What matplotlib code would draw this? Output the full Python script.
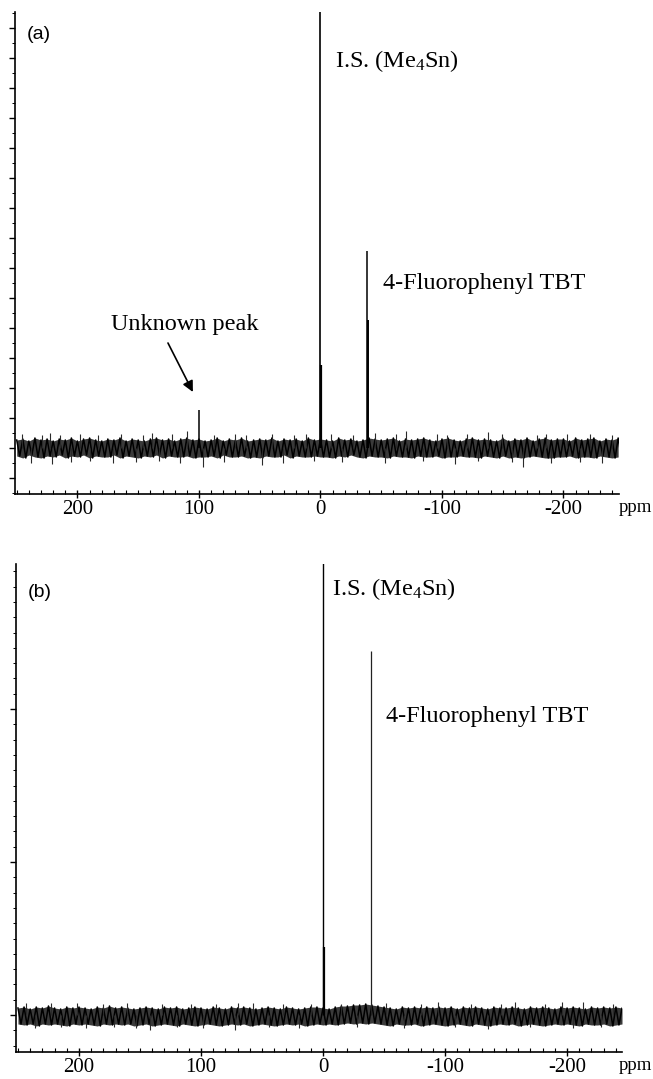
import numpy as np
import matplotlib
matplotlib.use("Agg")
import matplotlib.pyplot as plt
from matplotlib.ticker import MultipleLocator, FixedLocator

plt.rcParams["font.family"] = ["Liberation Serif", "DejaVu Serif"]
plt.rcParams["mathtext.fontset"] = "custom"
plt.rcParams["mathtext.rm"] = "Liberation Serif"
plt.rcParams["mathtext.it"] = "Liberation Serif:italic"

# ---------------- data ----------------
# chemical shift grid for the baseline-noise envelope (ppm)
noise_ppm = np.arange(250, -246, -5)

# panel (a) baseline noise envelope (arbitrary intensity units)
noise_hi_a = [8, 9, 7, 10, 8, 9, 7, 9, 8, 10,
              7, 9, 10, 8, 7, 9, 8, 10, 7, 9,
              8, 7, 9, 10, 8, 9, 7, 9, 10, 8,
              9, 7, 8, 10, 7, 9, 8, 10, 7, 8,
              9, 8, 10, 7, 9, 8, 9, 7, 10, 8,
              9, 8, 7, 10, 8, 9, 7, 8, 10, 9,
              8, 9, 10, 7, 9, 8, 9, 10, 8, 7,
              9, 10, 8, 7, 9, 10, 8, 9, 8, 7,
              10, 7, 9, 8, 10, 7, 9, 10, 8, 9,
              9, 7, 10, 8, 9, 10, 7, 9, 8, 10]
noise_lo_a = [-8, -10, -7, -9, -10, -8, -9, -7, -10, -8,
              -9, -7, -10, -8, -9, -9, -7, -10, -8, -9,
              -10, -8, -9, -7, -10, -8, -9, -9, -8, -10,
              -9, -9, -8, -10, -7, -9, -9, -8, -10, -9,
              -10, -8, -9, -9, -7, -10, -8, -9, -9, -8,
              -9, -9, -10, -8, -9, -7, -9, -10, -8, -9,
              -9, -10, -8, -9, -9, -10, -8, -9, -9, -8,
              -10, -9, -9, -8, -9, -9, -10, -8, -9, -10,
              -8, -10, -9, -10, -9, -8, -9, -10, -10, -9,
              -9, -8, -10, -9, -9, -10, -8, -9, -10, -9]
# individual noise spikes in panel (a)
spike_ppm_a = [246, 238, 229, 223, 221, 214, 205, 198, 190, 183,
               171, 164, 152, 146, 139, 133, 122, 116, 110, 97,
               88, 79, 70, 61, 48, 40, 31, 22, 12, 5,
               -9, -18, -27, -45, -53, -62, -70, -84, -96, -104,
               -111, -121, -130, -138, -149, -158, -167, -178, -186, -190,
               -203, -214, -222, -232, -240]
spike_val_a = [14, -15, 13, 15, -16, 13, -14, 14, -13, 13,
               -15, 14, -14, 13, 15, -13, 14, -15, 17, -19,
               13, -14, 14, 13, -17, 14, -15, 13, 14, -13,
               14, -14, 13, 15, -15, 14, 17, -13, 14, 13,
               -16, 14, -13, 16, 14, -14, -19, 13, 14, -15,
               14, -14, 14, -15, 13]

# panel (a) peaks: I.S. (Me4Sn) + shoulder, 4-fluorophenyl TBT (two traces), unknown peak
peak_ppm_a = [0.0, -0.6, -38.5, -38.8, 99.8]
peak_height_a = [440, 83, 197, 128, 38]

# panel (b) baseline noise envelope
noise_hi_b = [7, 8, 6, 8, 7, 9, 7, 6, 8, 7,
              8, 7, 6, 8, 7, 9, 7, 8, 7, 6,
              7, 8, 7, 6, 8, 7, 8, 6, 7, 8,
              7, 6, 8, 7, 6, 8, 7, 8, 7, 6,
              7, 8, 7, 6, 8, 7, 6, 7, 8, 8,
              7, 6, 8, 9, 9, 10, 10, 11, 10, 9,
              8, 7, 6, 8, 7, 8, 7, 8, 7, 8,
              7, 8, 6, 8, 7, 8, 7, 6, 8, 7,
              7, 8, 7, 6, 8, 7, 8, 7, 6, 8,
              7, 8, 7, 6, 8, 7, 8, 7, 8, 7]
noise_lo_b = [-9, -10, -9, -11, -9, -10, -9, -10, -11, -9,
              -10, -9, -10, -11, -9, -10, -9, -10, -9, -11,
              -10, -9, -11, -10, -9, -10, -11, -9, -10, -11,
              -10, -9, -10, -11, -10, -9, -10, -9, -11, -10,
              -9, -10, -11, -10, -9, -10, -9, -11, -10, -9,
              -10, -9, -10, -9, -8, -9, -8, -9, -8, -9,
              -10, -11, -9, -10, -10, -9, -11, -10, -9, -10,
              -11, -10, -9, -10, -11, -9, -10, -11, -10, -9,
              -10, -9, -11, -10, -9, -10, -11, -10, -9, -10,
              -9, -10, -11, -9, -10, -10, -9, -11, -10, -9]
spike_ppm_b = [243, 236, 223, 215, 202, 194, 180, 171, 161, 153,
               142, 132, 120, 108, 98, 88, 72, 70, 57, 44,
               33, 20, 10, -15, -28, -52, -66, -80, -94, -108,
               -121, -135, -146, -157, -170, -182, -196, -205, -213, -228,
               -238]
spike_val_b = [12, -13, 12, -12, 12, -13, 11, -12, 12, -13,
               -15, 11, -12, 11, -13, 11, -15, 12, 12, -12,
               11, -13, 11, 11, -12, 12, -13, 11, 13, -12,
               11, -14, 11, 13, -12, 11, 13, -13, 13, -12,
               11]

# panel (b) peaks: I.S. + shoulder, 4-fluorophenyl TBT
peak_ppm_b = [0.0, -0.5, -39.2]
peak_height_b = [455, 68, 364]

x_ticks = [200, 100, 0, -100, -200]
x_ticklabels = ["200", "100", "0", "-100", "-200"]

# ---------------- figure ----------------
W, H = 653, 1079
fig = plt.figure(figsize=(W / 100, H / 100), dpi=100)
axa = fig.add_axes([15 / W, 1 - 494 / H, (619 - 15) / W, (494 - 12) / H])
axb = fig.add_axes([16 / W, 1 - 1052 / H, (622 - 16) / W, (1052 - 564) / H])


def draw_noise(ax, ppm, hi, lo, sp_ppm, sp_val):
    ppm = np.asarray(ppm, float)
    # dark envelope band
    ax.fill_between(ppm, lo, hi, color="#3a3a3a", lw=0)
    # black trace zig-zagging between the envelope values
    xs = np.empty(2 * len(ppm))
    ys = np.empty(2 * len(ppm))
    xs[0::2] = ppm
    xs[1::2] = ppm - 2.5
    ys[0::2] = hi
    ys[1::2] = lo
    ax.plot(xs, ys, color="black", lw=1.1)
    ax.vlines(sp_ppm, 0, sp_val, colors="#2a2a2a", linewidths=0.8)


def style_axes(ax, xlim, ylim, ymajor, yminor, ppm_dx):
    ax.set_xlim(*xlim)
    ax.set_ylim(*ylim)
    for s in ("top", "right"):
        ax.spines[s].set_visible(False)
    ax.spines["left"].set_linewidth(1.2)
    ax.spines["bottom"].set_linewidth(1.2)
    ax.xaxis.set_major_locator(FixedLocator(x_ticks))
    ax.set_xticklabels(x_ticklabels)
    ax.xaxis.set_minor_locator(MultipleLocator(10))
    ax.yaxis.set_major_locator(MultipleLocator(ymajor))
    ax.yaxis.set_minor_locator(MultipleLocator(yminor))
    ax.tick_params(axis="x", which="major", direction="inout", length=6,
                   width=1, pad=1, labelsize=15)
    ax.tick_params(axis="x", which="minor", direction="in", length=3, width=0.8)
    ax.tick_params(axis="y", which="major", direction="out", length=4,
                   width=1, labelleft=False)
    ax.tick_params(axis="y", which="minor", direction="out", length=2.5,
                   width=0.7)
    ax.annotate("ppm", xy=(1, 0), xycoords="axes fraction", xytext=(ppm_dx, -5),
                textcoords="offset pixels", ha="left", va="top", fontsize=13.5)


# panel (a)
draw_noise(axa, noise_ppm, noise_hi_a, noise_lo_a, spike_ppm_a, spike_val_a)
axa.vlines(peak_ppm_a, 0, peak_height_a, colors="black",
           linewidths=[1.2, 1.6, 1.1, 1.4, 1.1])
style_axes(axa, (251.4, -245.7), (-46, 436), 30, 15, 0)
axa.text(0.02, 0.954, "(a)", transform=axa.transAxes, ha="left", va="center",
         fontsize=14, family=["Liberation Sans", "DejaVu Sans"])
axa.text(-12, 381, r"I.S. (Me$_\mathrm{4}$Sn)", ha="left", va="baseline",
         fontsize=17.5)
axa.text(-51.5, 159, "4-Fluorophenyl TBT", ha="left", va="baseline",
         fontsize=17.5)
axa.text(111.5, 118, "Unknown peak", ha="center", va="baseline", fontsize=17.5)
axa.annotate("", xy=(105, 56), xytext=(125.5, 105),
             arrowprops=dict(arrowstyle="-|>", color="black", lw=1.2,
                             mutation_scale=16, shrinkA=0, shrinkB=0))

# panel (b)
draw_noise(axb, noise_ppm, noise_hi_b, noise_lo_b, spike_ppm_b, spike_val_b)
axb.vlines(peak_ppm_b, 0, peak_height_b, colors=["black", "black", "#222222"],
           linewidths=[1.0, 1.6, 0.9])
style_axes(axb, (251.6, -245.0), (-37, 451), 153, 15.3, -3)
axb.text(0.02, 0.9406, "(b)", transform=axb.transAxes, ha="left", va="center",
         fontsize=14, family=["Liberation Sans", "DejaVu Sans"])
axb.text(-7.5, 420, r"I.S. (Me$_\mathrm{4}$Sn)", ha="left", va="baseline",
         fontsize=17.5)
axb.text(-52, 293, "4-Fluorophenyl TBT", ha="left", va="baseline",
         fontsize=17.5)

fig.savefig("out.png", dpi=100)
